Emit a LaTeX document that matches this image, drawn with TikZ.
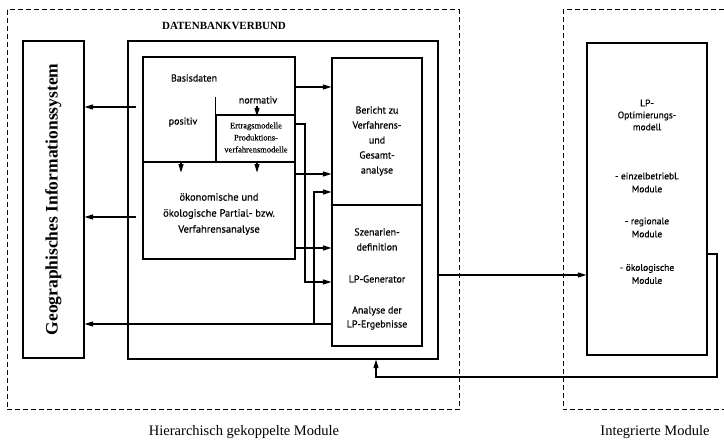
\documentclass[tikz,border=0pt]{standalone}
\usepackage{fontspec}
\setmainfont{Liberation Serif}
\newfontfamily\labelsans[FakeBold=0.6]{PT Sans}
\newfontfamily\smallserif[FakeBold=0.4]{Liberation Serif}
\usetikzlibrary{arrows.meta}
\begin{document}
\begin{tikzpicture}[x=1pt,y=-1pt,
  box/.style={draw,line width=1.1pt,inner sep=0pt},
  conn/.style={line width=1.1pt},
  arr/.style={conn,-{Triangle[length=8.5pt,width=5pt]}},
  dashbox/.style={line width=1pt,dash pattern=on 5pt off 3pt},
  lbl/.style={font=\labelsans\fontsize{10}{15}\selectfont,align=center,inner sep=0pt},
  lblsmall/.style={font=\labelsans\fontsize{9.5}{13}\selectfont,align=center,inner sep=0pt}]
\useasboundingbox (0,0) rectangle (724,443);
% dashed module frames
\draw[dashbox] (7,10) rectangle (459,410);
\draw[dashbox] (724,10) -- (563,10) -- (563,410) -- (724,410);
% boxes
\node[box,minimum width=61pt,minimum height=317pt] (gis) at (53.5,199.5) {};
\node[box,minimum width=310pt,minimum height=318pt] (big) at (283,200) {};
\node[box,minimum width=152pt,minimum height=105pt] (basis) at (219,109.5) {};
\node[box,minimum width=79pt,minimum height=47pt] (ertrag) at (255.5,138.5) {};
\node[box,minimum width=152pt,minimum height=97pt] (oekon) at (219,210.5) {};
\node[box,minimum width=90pt,minimum height=147pt] (bericht) at (377,131.5) {};
\node[box,minimum width=90pt,minimum height=141pt] (szen) at (377,275.5) {};
\node[box,minimum width=120pt,minimum height=312pt] (lp) at (647,199) {};
% texts
\node[font=\bfseries\fontsize{11}{13}\selectfont,inner sep=0pt] (dbv) at (224,26) {DATENBANKVERBUND};
\node[rotate=90,font=\bfseries\fontsize{17.5}{19}\selectfont,inner sep=0pt] (gistext) at (gis.center) {Geographisches Informationssystem};
\node[lbl] (basistext) at (194,78) {Basisdaten};
\node[lbl] (positiv) at (183,122) {positiv};
\node[lbl] (normativ) at (258,100) {normativ};
\node[font=\smallserif\fontsize{8.5}{12}\selectfont,align=center,inner sep=0pt] (ertragtext) at (256,137.5) {Ertragsmodelle\\Produktions-\\verfahrensmodelle};
\node[font=\labelsans\fontsize{10.5}{16}\selectfont,align=center,inner sep=0pt] (oekontext) at (219,214) {ökonomische und\\ökologische Partial- bzw.\\Verfahrensanalyse};
\node[lbl] (berichttext) at (377,141) {Bericht zu\\Verfahrens-\\und\\Gesamt-\\analyse};
\node[lbl] (szen1) at (377,239.5) {Szenarien-\\definition};
\node[lbl] (szen2) at (377,279) {LP-Generator};
\node[lbl,font=\labelsans\fontsize{10}{14}\selectfont] (szen3) at (377,318) {Analyse der\\LP-Ergebnisse};
\node[lblsmall,font=\labelsans\fontsize{9.5}{12}\selectfont] (lp1) at (647,115) {LP-\\Optimierungs-\\modell};
\node[lblsmall] (lp2) at (647,182.5) {- einzelbetriebl.\\Module};
\node[lblsmall] (lp3) at (647,227.5) {- regionale\\Module};
\node[lblsmall] (lp4) at (647,274) {- ökologische\\Module};
\node[font=\fontsize{14.5}{16}\selectfont,inner sep=0pt] (cap1) at (244,432) {Hierarchisch gekoppelte Module};
\node[font=\fontsize{14.5}{16}\selectfont,inner sep=0pt] (cap2) at (655,432) {Integrierte Module};
% helper coordinates
\coordinate (yA) at (0,87);
\coordinate (yE) at (0,124);
\coordinate (yB) at (0,174);
\coordinate (yC) at (0,192);
\coordinate (yD) at (0,248);
\coordinate (yM) at (0,275);
\coordinate (yF) at (0,282);
\coordinate (yH) at (0,324);
\coordinate (yR) at (0,254);
\coordinate (yL) at (0,377);
\coordinate (x305) at (305,0);
\coordinate (x314) at (314,0);
\coordinate (x717) at (717,0);
\coordinate (x376) at (376,0);
\coordinate (s1) at (136,107);
\coordinate (s2) at (136,217);
\coordinate (na) at (257,106);
\coordinate (d1) at (181,0);
\coordinate (d2) at (257,0);
% divider in Basisdaten
\draw[conn] (ertrag.north west) -- ++(0,-17);
% short arrows
\draw[arr,shorten >=-2pt] (na) -- (ertrag.north -| na);
\draw[arr] (d1 |- basis.south) -- ++(0,10);
\draw[arr] (d2 |- basis.south) -- ++(0,10);
% connectors
\draw[arr] (s1) -- (gis.east |- s1);
\draw[arr] (s2) -- (gis.east |- s2);
\draw[arr] (basis.east |- yA) -- (bericht.west |- yA);
\draw[arr] (oekon.east |- yB) -- (bericht.west |- yB);
\draw[arr] (oekon.east |- yD) -- (szen.west |- yD);
\draw[arr] (ertrag.east |- yE) -- (x305 |- yE) -- (x305 |- yF) -- (szen.west |- yF);
\draw[arr] (szen.west |- yH) -- (gis.east |- yH);
\draw[arr] (x314 |- yH) -- (x314 |- yC) -- (bericht.west |- yC);
\draw[arr] (big.east |- yM) -- (lp.west |- yM);
\draw[arr] (lp.east |- yR) -- (x717 |- yR) -- (x717 |- yL) -- (x376 |- yL) -- (x376 |- big.south);
\end{tikzpicture}
\end{document}
